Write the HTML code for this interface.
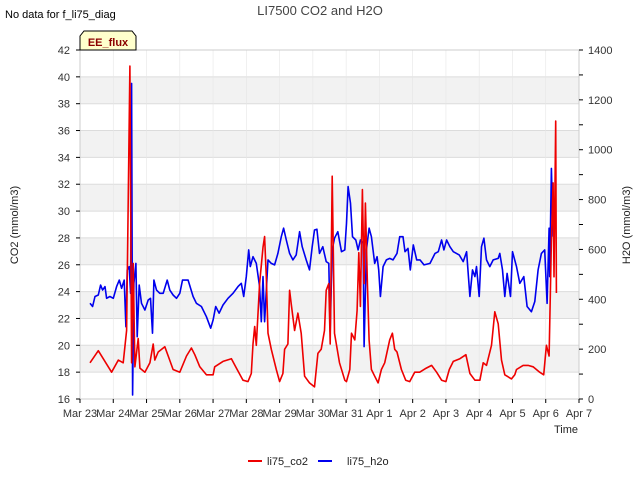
<!DOCTYPE html>
<html><head><meta charset="utf-8"><style>
body{margin:0;background:#fff;font-family:"Liberation Sans",sans-serif;}
svg text{font-family:"Liberation Sans",sans-serif;}
</style></head><body>
<svg id="c" width="640" height="480" xmlns="http://www.w3.org/2000/svg"></svg>
<script>
const xTickLabels=["Mar 23","Mar 24","Mar 25","Mar 26","Mar 27","Mar 28","Mar 29","Mar 30","Mar 31","Apr 1","Apr 2","Apr 3","Apr 4","Apr 5","Apr 6","Apr 7"];
const leftTicks=[16,18,20,22,24,26,28,30,32,34,36,38,40,42];
const rightTicks=[0,200,400,600,800,1000,1200,1400];
const co2Days=[.30,.55,.95,1.15,1.30,1.40,1.50,1.55,1.60,1.65,1.75,1.80,1.95,2.10,2.20,2.25,2.35,2.55,2.65,2.80,3.00,3.20,3.35,3.45,3.60,3.80,4.00,4.05,4.30,4.55,4.70,4.90,5.05,5.15,5.20,5.25,5.30,5.40,5.50,5.55,5.60,5.65,5.75,5.90,6.00,6.10,6.15,6.25,6.30,6.35,6.45,6.55,6.65,6.75,6.90,7.05,7.15,7.25,7.35,7.40,7.48,7.52,7.58,7.65,7.80,7.96,8.01,8.11,8.16,8.26,8.33,8.38,8.43,8.49,8.54,8.58,8.64,8.69,8.76,8.86,8.96,9.06,9.16,9.31,9.39,9.46,9.53,9.66,9.79,9.91,10.06,10.21,10.41,10.57,10.72,10.87,11.00,11.10,11.22,11.42,11.60,11.72,11.87,12.02,12.12,12.22,12.37,12.47,12.57,12.67,12.77,12.97,13.07,13.12,13.32,13.47,13.62,13.82,13.94,14.02,14.10,14.17,14.22,14.25,14.30,14.32];
const co2Vals=[18.7,19.6,18.0,18.9,18.7,21.1,40.8,18.7,26.1,18.4,20.5,18.3,18.0,18.7,20.1,18.9,19.5,19.9,19.2,18.2,18.0,19.2,19.8,19.3,18.4,17.8,17.8,18.4,18.8,19.0,18.3,17.4,17.3,17.9,20.1,21.4,20.0,24.6,27.3,28.1,25.1,20.9,19.7,18.2,17.3,17.9,19.7,20.1,24.1,23.1,21.1,22.4,20.9,17.7,17.2,16.9,19.4,19.7,21.1,24.1,24.6,20.1,32.6,20.9,18.7,17.4,17.3,18.2,20.9,20.4,22.6,26.9,22.9,31.6,24.6,30.6,24.6,20.4,18.2,17.7,17.2,18.2,18.7,20.4,20.9,19.7,19.5,18.2,17.4,17.3,18.0,18.0,18.3,18.5,18.0,17.4,17.3,18.2,18.8,19.0,19.3,17.9,17.4,17.4,18.7,18.5,20.0,22.5,21.6,18.9,17.8,17.5,17.8,18.2,18.5,18.5,18.4,18.0,17.8,20.0,19.2,27.8,32.1,25.1,36.7,23.9];
const h2oDays=[.30,.38,.45,.55,.62,.68,.75,.80,.90,1.00,1.10,1.18,1.25,1.33,1.38,1.42,1.48,1.52,1.55,1.58,1.62,1.68,1.72,1.78,1.85,1.95,2.05,2.12,2.18,2.22,2.30,2.40,2.50,2.62,2.70,2.80,2.90,3.00,3.08,3.25,3.40,3.50,3.65,3.80,3.93,4.00,4.08,4.18,4.30,4.45,4.60,4.75,4.85,4.92,5.00,5.07,5.12,5.20,5.30,5.40,5.45,5.50,5.55,5.65,5.75,5.85,5.95,6.05,6.12,6.20,6.30,6.40,6.50,6.60,6.68,6.80,6.90,6.98,7.05,7.12,7.20,7.30,7.40,7.48,7.52,7.58,7.65,7.75,7.86,7.96,8.01,8.06,8.13,8.19,8.29,8.36,8.43,8.51,8.54,8.61,8.69,8.76,8.86,8.93,8.98,9.03,9.11,9.21,9.31,9.41,9.53,9.61,9.71,9.77,9.86,9.93,10.02,10.12,10.22,10.34,10.52,10.67,10.77,10.87,10.94,11.02,11.12,11.22,11.40,11.52,11.62,11.72,11.80,11.87,11.92,12.00,12.07,12.14,12.22,12.32,12.42,12.57,12.62,12.70,12.77,12.84,12.94,13.00,13.12,13.22,13.34,13.44,13.57,13.67,13.77,13.87,13.97,14.04,14.10,14.12,14.17,14.22];
const h2oVals=[384,371,411,417,457,437,451,404,411,404,451,477,444,477,290,518,531,424,1266,16,464,544,250,457,384,357,397,404,264,477,437,424,424,477,437,417,404,424,477,477,411,384,371,330,284,317,371,344,377,404,424,451,464,411,491,598,531,571,544,451,310,491,310,558,544,538,584,651,685,638,584,558,578,671,611,558,518,611,678,681,584,611,551,544,270,598,645,671,591,598,705,852,785,651,638,598,638,625,210,598,685,651,544,571,518,411,531,558,564,558,584,651,651,591,604,518,618,558,558,538,544,584,591,638,598,638,611,591,578,551,591,411,518,491,531,411,611,645,558,531,558,564,584,518,411,504,411,591,531,464,491,371,350,391,518,584,598,384,685,491,925,651];

const NS="http://www.w3.org/2000/svg",svg=document.getElementById('c');
const L=80,R=579,T=50,B=399;
const xs=d=>L+d*(R-L)/15;
const yl=v=>B-(v-16)*(B-T)/26;
const yr=v=>B-v*(B-T)/1400;
function mk(tag,attrs,parent){const e=document.createElementNS(NS,tag);for(const k in attrs)e.setAttribute(k,attrs[k]);(parent||svg).appendChild(e);return e;}
function txt(s,attrs){const e=mk('text',attrs);e.textContent=s;return e;}

// bands
for(let v=18;v<42;v+=4){const r=mk('rect',{x:L,y:yl(v+2),width:R-L,height:yl(v)-yl(v+2),fill:'#f2f2f2'});

}
leftTicks.forEach(v=>{const l=mk('line',{x1:L,x2:R,y1:yl(v),y2:yl(v),stroke:'#dcdcdc','stroke-width':1});

});
for(let i=0;i<16;i++){const l=mk('line',{x1:xs(i),x2:xs(i),y1:T,y2:B,stroke:'#e6e6e6','stroke-width':0.6});

}
const frame=mk('rect',{x:L,y:T,width:R-L,height:B-T,fill:'none',stroke:'#cccccc'});



// left ticks
leftTicks.forEach(v=>{mk('line',{x1:L-4,x2:L,y1:yl(v),y2:yl(v),stroke:'#000'});
const t=txt(v,{x:L-10,y:yl(v)+4,'text-anchor':'end','font-size':11,fill:'#333'});

});
for(let v=0;v<=1400;v+=100){mk('line',{x1:R,x2:R+4,y1:yr(v),y2:yr(v),stroke:'#000'});}
rightTicks.forEach(v=>{const t=txt(v,{x:R+9,y:yr(v)+4,'font-size':11,fill:'#333'});

});
xTickLabels.forEach((s,i)=>{mk('line',{x1:xs(i),x2:xs(i),y1:B,y2:B+4,stroke:'#000'});
const t=txt(s,{x:xs(i),y:B+18,'text-anchor':'middle','font-size':11,fill:'#333'});

});

function series(days,vals,yf,color,name){const p=days.map((d,i)=>(i?'L':'M')+xs(d).toFixed(1)+','+yf(vals[i]).toFixed(1)).join('');
const e=mk('path',{d:p,fill:'none',stroke:color,'stroke-width':1.6,'stroke-linejoin':'round'});

}
series(h2oDays,h2oVals,yr,'#0000ee','h2o-line');
series(co2Days,co2Vals,yl,'#ee0000','co2-line');

let t;
t=txt('LI7500 CO2 and H2O',{x:320,y:15,'text-anchor':'middle','font-size':13,fill:'#444'});

t=txt('No data for f_li75_diag',{x:5,y:18,'font-size':11,fill:'#000'});

const eb=mk('path',{d:'M80,50 L80,36 L84,31 L132,31 L136,36 L136,50 Z',fill:'#ffffcc',stroke:'#000','stroke-width':1});

t=txt('EE_flux',{x:108,y:46,'text-anchor':'middle','font-size':11,'font-weight':'bold',fill:'#8b0000'});

t=txt('CO2 (mmol/m3)',{x:18,y:225,'text-anchor':'middle','font-size':11,fill:'#222',transform:'rotate(-90 18 225)'});

t=txt('H2O (mmol/m3)',{x:630,y:225,'text-anchor':'middle','font-size':11,fill:'#222',transform:'rotate(-90 630 225)'});

t=txt('Time',{x:578,y:433,'text-anchor':'end','font-size':11,fill:'#222'});

let l=mk('line',{x1:248,x2:262,y1:461,y2:461,stroke:'#ee0000','stroke-width':2});

t=txt('li75_co2',{x:267,y:465,'font-size':11,fill:'#222'});

l=mk('line',{x1:318,x2:332,y1:461,y2:461,stroke:'#0000ee','stroke-width':2});

t=txt('li75_h2o',{x:347,y:465,'font-size':11,fill:'#222'});

</script>
</body></html>
